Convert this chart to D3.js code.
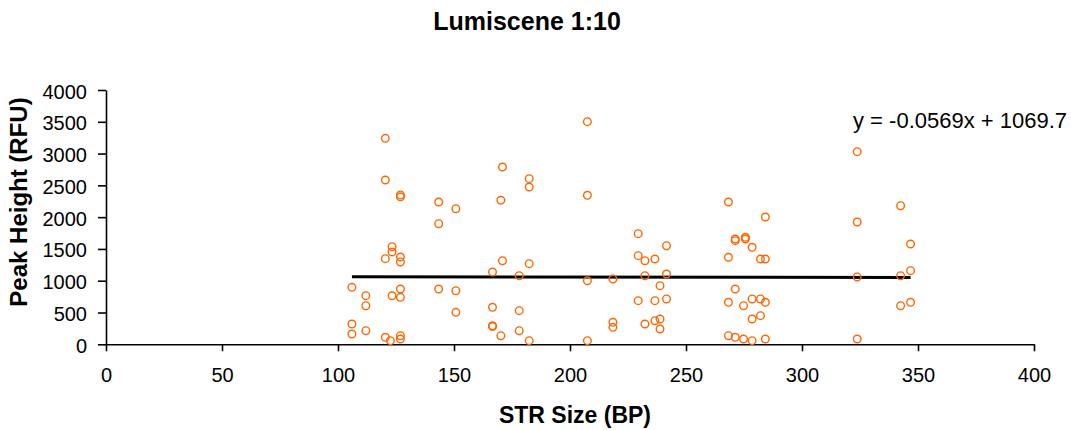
<!DOCTYPE html>
<html><head><meta charset="utf-8">
<script src="https://cdn.jsdelivr.net/npm/d3@7"></script>
<style>body{margin:0;background:#fff;} text{font-family:"Liberation Sans",Arial,sans-serif;}</style>
</head><body>
<svg id="c" width="1071" height="430"></svg>
<script>
const strSize = [106,106,106,112,112,112,120.4,120.4,120.4,120.4,122.6,123.3,123.3,123.3,
 126.9,126.9,126.9,126.9,126.9,126.9,126.9,126.9,143.4,143.4,143.4,150.8,150.8,150.8,
 166.6,166.6,166.6,166.6,170.2,170.2,170.9,170.9,178.1,178.1,178.1,182.4,182.4,182.4,182.4,
 207.5,207.5,207.5,207.5,218.5,218.5,218.5,229.4,229.4,229.4,232.3,232.3,232.3,
 236.6,236.6,236.6,238.8,238.8,238.8,241.6,241.6,241.6,268.3,268.3,268.3,268.3,
 271.2,271.2,271.2,271.2,274.8,274.8,275.6,275.6,278.5,278.5,278.5,278.5,
 282.1,282.1,282.1,284.2,284.2,284.2,284.2,323.8,323.8,323.8,323.8,342.5,342.5,342.5,
 346.8,346.8,346.8];
const peakHeight = [896,319,162,765,607,214,3240,2584,1347,110,57,1535,1452,764,
 2350,2320,1373,1295,870,739,135,83,2238,1897,870,2133,843,503,
 1137,582,293,280,2265,135,2789,1315,1079,529,214,2605,2474,1268,57,
 3502,2344,1000,57,1027,346,267,1740,1394,686,1315,1079,319,
 1342,686,371,922,398,241,1551,1106,713,2238,1369,661,135,
 1656,1630,870,110,607,83,1683,1656,1526,713,398,57,
 1342,713,450,2002,1342,661,83,3030,1924,1059,83,2180,1079,607,
 1578,1158,661];
const xTicks = [0,50,100,150,200,250,300,350,400];
const yTicks = [0,500,1000,1500,2000,2500,3000,3500,4000];
const trendSlope = -0.0569, trendIntercept = 1069.7;
const trendLabel = "y = -0.0569x + 1069.7";
const title = "Lumiscene 1:10", xTitle = "STR Size (BP)", yTitle = "Peak Height (RFU)";

const svg = d3.select("#c");
const x = d3.scaleLinear().domain([0,400]).range([106,1034]);
const y = d3.scaleLinear().domain([0,4000]).range([344.3,90]);
const fmt = d3.format("d");

const ga = svg.append("g");
ga.append("g").attr("transform","translate(0,344.3)")
  .call(d3.axisBottom(x).tickValues(xTicks).tickFormat(fmt).tickSize(7).tickPadding(17).tickSizeOuter(0))
  .call(g=>{g.select(".domain").attr("stroke","#000").attr("stroke-width",1.6);
    g.selectAll(".tick line").attr("stroke","#000").attr("stroke-width",1.6);
    g.selectAll("text").attr("font-size",20).attr("fill","#000").attr("font-family","Liberation Sans, Arial");});
ga.append("g").attr("transform","translate(106,0)")
  .call(d3.axisLeft(y).tickValues(yTicks).tickFormat(fmt).tickSize(8).tickPadding(11).tickSizeOuter(0))
  .call(g=>{g.select(".domain").attr("stroke","#000").attr("stroke-width",1.6);
    g.selectAll(".tick line").attr("stroke","#000").attr("stroke-width",1.6);
    g.selectAll("text").attr("font-size",20).attr("dy","0.4em").attr("fill","#000").attr("font-family","Liberation Sans, Arial");});

const xmin = d3.min(strSize), xmax = d3.max(strSize);
svg.append("line")
  .attr("x1",x(xmin)).attr("x2",x(xmax))
  .attr("y1",y(trendSlope*xmin+trendIntercept)).attr("y2",y(trendSlope*xmax+trendIntercept))
  .attr("stroke","#000").attr("stroke-width",3);

svg.append("g").selectAll("circle").data(strSize).join("circle")
  .attr("cx",(d)=>x(d)).attr("cy",(d,i)=>y(peakHeight[i])).attr("r",3.8)
  .attr("fill","none").attr("stroke","#FF6600").attr("stroke-width",1.4);

svg.append("text").attr("x",527).attr("y",30).attr("text-anchor","middle")
  .attr("font-size",25).attr("font-weight","bold").text(title);
svg.append("text").attr("x",575).attr("y",423).attr("text-anchor","middle")
  .attr("font-size",23).attr("font-weight","bold").text(xTitle);
svg.append("text").attr("transform","translate(27,202) rotate(-90)").attr("text-anchor","middle")
  .attr("font-size",24).attr("font-weight","bold").text(yTitle);
svg.append("text").attr("x",853).attr("y",128).attr("font-size",22).text(trendLabel);
</script>
</body></html>
